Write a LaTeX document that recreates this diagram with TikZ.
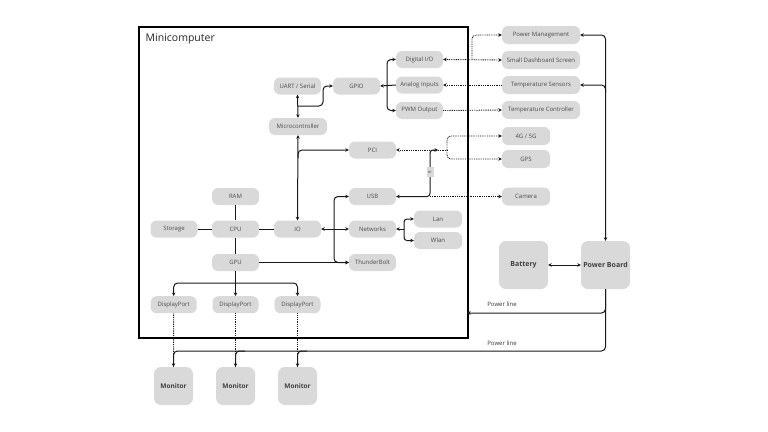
\documentclass[tikz,border=0pt]{standalone}
\usepackage{fontspec}
\setmainfont{Open Sans}
\usetikzlibrary{arrows.meta}
\definecolor{boxgray}{RGB}{217,217,217}
\definecolor{txtgray}{RGB}{75,75,75}
\definecolor{linec}{RGB}{25,25,25}
\tikzset{
  box/.style={fill=boxgray, rounded corners=6pt, minimum width=47pt, minimum height=17pt, inner sep=0pt, text=txtgray, font=\fontsize{6}{7}\selectfont},
  bigbox/.style={fill=boxgray, rounded corners=7pt, minimum width=49pt, minimum height=48pt, inner sep=0pt, text=txtgray!85!black, font=\fontsize{7}{8}\selectfont\bfseries},
  monbox/.style={bigbox, minimum width=39pt, minimum height=38pt, font=\fontsize{6.5}{8}\selectfont\bfseries},
  conn/.style={draw=linec, line width=1pt, >={Stealth[length=3.5pt,width=3.5pt]}},
  dots/.style={conn, line width=0.9pt, dash pattern=on 0.9pt off 0.9pt},
  lbl/.style={font=\fontsize{6}{7}\selectfont, text=txtgray!70!black, inner sep=0pt}
}
\begin{document}
\begin{tikzpicture}[x=1pt,y=-1pt]
\useasboundingbox (0,0) rectangle (768,431);
% frame
\node (frame) [draw=black, line width=1.8pt, minimum width=329pt, minimum height=311pt, anchor=north west, inner sep=0pt] at (138,26) {};
\node (title) [anchor=base west, inner sep=0pt, font=\fontsize{10.5}{12}\selectfont, text=black!85] at (145.5,41.5) {Minicomputer};
% nodes inside
\node (uart) [box] at (297.5,86) {UART / Serial};
\node (gpio) [box] at (356.5,86) {GPIO};
\node (micro) [box, minimum width=58pt] at (298,126.5) {Microcontroller};
\node (dio) [box] at (419.5,59.5) {Digital I/O};
\node (ai) [box] at (419.5,85) {Analog Inputs};
\node (pwm) [box] at (419.5,110.5) {PWM Output};
\node (pci) [box] at (372.5,150) {PCI};
\node (usb) [box] at (372.5,196.5) {USB};
\node (net) [box] at (372.5,229) {Networks};
\node (tb) [box] at (372.5,262.5) {ThunderBolt};
\node (lan) [box, minimum width=48pt] at (438,219) {Lan};
\node (wlan) [box, minimum width=48pt] at (438,240.5) {Wlan};
\node (storage) [box] at (174,229) {Storage};
\node (ram) [box] at (235.5,196.5) {RAM};
\node (cpu) [box] at (235.5,229) {CPU};
\node (gpu) [box] at (235.5,262.5) {GPU};
\node (io) [box] at (297.5,229) {IO};
\node (dp1) [box, minimum width=46pt] at (173.7,304.7) {DisplayPort};
\node (dp2) [box, minimum width=46pt] at (235.5,304.7) {DisplayPort};
\node (dp3) [box, minimum width=46pt] at (297.5,304.7) {DisplayPort};
% outside nodes
\node (pm) [box, minimum width=78pt, minimum height=18pt] at (541,35) {Power Management};
\node (sds) [box, minimum width=78pt, minimum height=18pt] at (541,60) {Small Dashboard Screen};
\node (ts) [box, minimum width=78pt, minimum height=18pt] at (541,85) {Temperature Sensors};
\node (tc) [box, minimum width=78pt, minimum height=18pt] at (541,110) {Temperature Controller};
\node (g4) [box, minimum width=48pt, minimum height=18pt] at (526,136) {4G / 5G};
\node (gps) [box, minimum width=48pt, minimum height=18pt] at (526,159) {GPS};
\node (cam) [box, minimum width=48pt, minimum height=18pt] at (526,196.5) {Camera};
\node (bat) [bigbox] at (523.5,265) {Battery};
\node (pb) [bigbox] at (605.5,265) {Power Board};
\node (mon1) [monbox] at (173.5,386) {Monitor};
\node (mon2) [monbox] at (235.5,386) {Monitor};
\node (mon3) [monbox] at (297.5,386) {Monitor};
% plain links
\draw[conn] (ram) -- (cpu);
\draw[conn] (cpu) -- (gpu);
\draw[conn] (storage) -- (cpu);
\draw[conn] (cpu) -- (io);
\draw[conn,->] (gpu.east) -- (tb.west);
% IO bus
\draw[conn,<-] (io.east) -- (334,229) coordinate (iob);
\draw[conn,->,rounded corners=4pt] (iob) |- (usb.west);
\draw[conn,->,rounded corners=4pt] (iob) |- (tb.west);
\draw[conn,->] (iob) -- (net.west);
% micro - io, pci
\draw[conn,<->] (micro.south) -- (io.north);
\coordinate (mb) at (298,158);
\draw[conn,->,rounded corners=4pt] (mb) |- (pci.west);
% uart - micro - gpio
\draw[conn,<->] (uart.south) -- (micro.north);
\coordinate (um) at (298,106);
\draw[conn,->,rounded corners=4pt] (um) -| (323,95) |- (gpio.west);
% gpio bus
\draw[conn,->] (ai.west) -- (gpio.east);
\coordinate (gb2) at (387,86);
\draw[conn,->,rounded corners=4pt] (gb2) |- (dio.west);
\draw[conn,->,rounded corners=4pt] (gb2) |- (pwm.west);
% dotted outside
\draw[dots,<->] (dio.east) -- (sds.west);
\coordinate (pmb) at (472,59.5);
\draw[dots,->,rounded corners=4pt] (pmb) |- (pm.west);
\draw[dots,->] (ts.west) -- (ai.east);
\draw[dots,->] (pwm.east) -- (tc.west);
% PCI / USB group
\coordinate (j1) at (438,150);
\coordinate (j2) at (447,150);
\draw[dots,<-] (pci.east) -- (j2);
\draw[dots,->,rounded corners=4pt] (j2) |- (g4.west);
\draw[dots,->,rounded corners=4pt] (j2) |- (gps.west);
\coordinate (uc) at (430,196.5);
\draw[conn,<->,rounded corners=3pt] (usb.east) -| (430,150) -- (j1);
\draw[dots,->] (uc) -- (cam.west);
\node (or) [fill=boxgray, inner sep=0pt, minimum width=7pt, minimum height=10pt, font=\fontsize{4}{5}\selectfont, text=txtgray] at (430,172) {or};
% networks
\coordinate (nb) at (404,229);
\draw[conn,<-] (net.east) -- (nb);
\draw[conn,->,rounded corners=3pt] (nb) |- (lan.west);
\draw[conn,->,rounded corners=3pt] (nb) |- (wlan.west);
% gpu - dp
\draw[conn] (gpu.south) -- (235.5,283) coordinate (gdb);
\draw[conn,->,rounded corners=4pt] (gdb) -| (dp1.north);
\draw[conn,->] (gdb) -- (dp2.north);
\draw[conn,->,rounded corners=4pt] (gdb) -| (dp3.north);
% dp - monitors
\draw[dots] (dp1.south) -- (mon1.north);
\draw[dots] (dp2.south) -- (mon2.north);
\draw[dots] (dp3.south) -- (mon3.north);
% power
\draw[conn,<->] (bat.east) -- (pb.west);
\draw[conn,<->,rounded corners=4pt] (pm.east) -| (pb.north);
\coordinate (tsb) at (605.5,93);
\draw[conn,->,rounded corners=4pt] (tsb) |- (ts.east);
\coordinate (pl1) at (467,313);
\draw[conn,->,rounded corners=4pt] (pb.south) |- (pl1);
\coordinate (pl2) at (605.5,351);
\draw[conn,->,rounded corners=4pt] (pb.south) -- (pl2) -| (mon1.north);
\draw[conn,->,rounded corners=4pt] (245,351) -| (mon2.north);
\draw[conn,->,rounded corners=4pt] (307,351) -| (mon3.north);
\node (plab1) [lbl] at (502,304) {Power line};
\node (plab2) [lbl] at (502,343) {Power line};
\end{tikzpicture}
\end{document}
